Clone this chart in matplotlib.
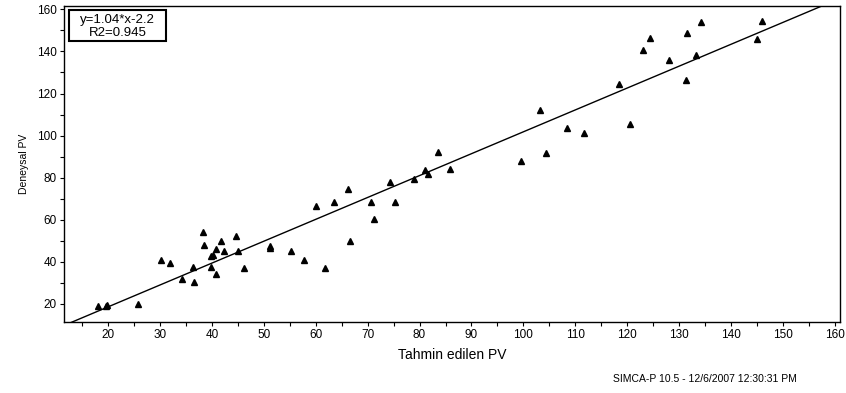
import matplotlib
matplotlib.use("Agg")
import matplotlib.pyplot as plt
from matplotlib.ticker import MultipleLocator
from matplotlib.patches import Rectangle
import numpy as np

plt.rcParams['font.family'] = ['Liberation Sans', 'DejaVu Sans']

# Predicted (x) vs experimental (y) PV
predicted = [18.0, 19.6, 19.8, 25.8, 30.2, 32.0, 34.2, 36.4, 36.6, 38.3, 38.5, 39.9,
             40.2, 39.9, 40.8, 40.7, 41.8, 42.3, 44.7, 45.0, 46.1, 51.2, 51.1, 55.2,
             57.8, 61.7, 60.1, 63.6, 66.3, 66.6, 70.7, 71.2, 74.4, 75.3, 78.9, 81.1,
             81.6, 83.6, 85.9, 99.5, 103.2, 104.3, 108.4, 111.7, 118.4, 120.6, 123.0,
             124.4, 128.0, 131.3, 131.5, 133.2, 134.3, 145.0, 146.0]
experimental = [19.2, 19.2, 19.4, 20.1, 41.0, 39.3, 31.9, 37.4, 30.6, 54.2, 47.9, 42.7,
                43.1, 37.4, 46.0, 34.0, 50.1, 45.2, 52.4, 45.2, 37.0, 47.7, 46.5, 45.3,
                41.0, 37.2, 66.4, 68.5, 74.6, 49.8, 68.5, 60.2, 78.0, 68.3, 79.4, 83.8,
                81.9, 92.1, 84.0, 88.1, 112.2, 91.6, 103.5, 101.1, 124.4, 105.5, 140.5,
                146.2, 136.1, 126.6, 148.9, 138.3, 154.1, 145.9, 154.6]

slope, intercept = 1.04, -2.2
eq_lines = ["y=1.04*x-2.2", "R2=0.945"]
x_label = "Tahmin edilen PV"
y_label = "Deneysal PV"
footer = "SIMCA-P 10.5 - 12/6/2007 12:30:31 PM"

W, H = 846, 393
fig = plt.figure(figsize=(W/100, H/100), dpi=100)
ax = fig.add_axes([64/W, 1-322/H, (840-64)/W, (322-6)/H])

xmin, xmax = 11.5, 161.0
ymin, ymax = 11.4, 161.6
ax.set_xlim(xmin, xmax)
ax.set_ylim(ymin, ymax)

xl = np.array([xmin, xmax])
ax.plot(xl, slope*xl + intercept, color='black', lw=1.0, zorder=2)
ax.plot(predicted, experimental, linestyle='none', marker='^', ms=5,
        color='black', zorder=3)

ax.xaxis.set_major_locator(MultipleLocator(10))
ax.xaxis.set_minor_locator(MultipleLocator(5))
ax.yaxis.set_major_locator(MultipleLocator(20))
ax.yaxis.set_minor_locator(MultipleLocator(10))
ax.tick_params(which='both', direction='out', length=3, width=0.8, labelsize=8.5,
               pad=2)
for s in ax.spines.values():
    s.set_linewidth(1.0)

ax.set_xlabel(x_label, fontsize=10, labelpad=5)
ax.set_ylabel(y_label, fontsize=7.5, labelpad=6)

# equation box (figure pixel coordinates)
bx0, by0, bx1, by1 = 69, 9.5, 166, 41
fig.patches.append(Rectangle((bx0/W, 1-by1/H), (bx1-bx0)/W, (by1-by0)/H,
                             transform=fig.transFigure, fc='white', ec='black',
                             lw=1.5, zorder=5))
for line, yc in zip(eq_lines, [20.5, 33]):
    fig.text((bx0+bx1)/2/W, 1-yc/H, line, ha='center', va='center',
             fontsize=9.5, zorder=6)

fig.text(705/W, 1-379/H, footer, ha='center', va='center', fontsize=7.5)

fig.savefig("out.png", dpi=100)
